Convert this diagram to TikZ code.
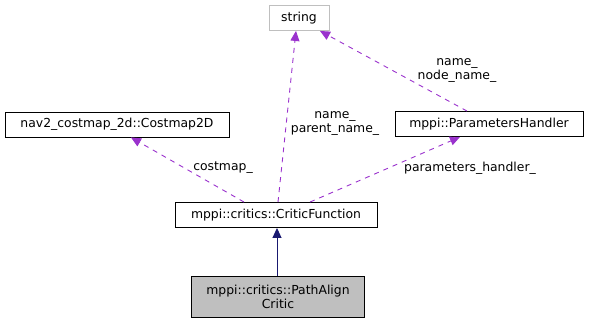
\documentclass[tikz,border=0pt]{standalone}
\usepackage{fontspec}
\setmainfont{DejaVu Sans}
\usepackage{tikz}
\usetikzlibrary{arrows.meta,positioning}
\definecolor{usagepurple}{HTML}{9A32CD}
\definecolor{inheritnavy}{HTML}{191970}
\definecolor{leafgray}{HTML}{BFBFBF}

\tikzset{
  classbox/.style={draw, fill=white, line width=0.9pt, inner sep=2pt,
                   minimum height=25, font=\fontsize{12.4}{14}\selectfont, align=center},
  edgelabel/.style={font=\fontsize{12.4}{14}\selectfont, align=center, inner sep=1pt},
  usage/.style={draw=usagepurple, line width=0.9pt, dash pattern=on 5pt off 5pt,
                -{Triangle[length=10pt,width=9pt,fill=usagepurple]}},
  inherit/.style={draw=inheritnavy, line width=0.9pt,
                  -{Triangle[length=10pt,width=9pt,fill=inheritnavy]}}
}

\begin{document}
\begin{tikzpicture}[x=1pt, y=-1pt]
\useasboundingbox (0,0) rectangle (589,324);

% classes
\node[classbox, draw=leafgray, minimum width=60] (str) at (299,18) {string};
\node[classbox, minimum width=224] (costmap) at (117,124.5) {nav2\_costmap\_2d::Costmap2D};
\node[classbox, minimum width=188] (params) at (489,124) {mppi::ParametersHandler};
\node[classbox, minimum width=202] (critfn) at (276,215) {mppi::critics::CriticFunction};
\node[classbox, fill=leafgray, minimum width=173, minimum height=41] (pathalign) at (278,297)
  {mppi::critics::PathAlign\\Critic};

% inheritance
\draw[inherit] ([xshift=-1]pathalign.north) -- ([xshift=-1]pathalign.north |- critfn.south);

% members
\draw[usage] ([xshift=2]critfn.north) -- ([xshift=-3]str.south);
\node[edgelabel] (lblname) at (335,123) {name\_\\parent\_name\_};
\draw[usage] ([xshift=-22]params.north) -- ([xshift=21]str.south);
\node[edgelabel] (lblnode) at (457,70) {name\_\\node\_name\_};
\draw[usage] ([xshift=34]critfn.north) -- ([xshift=-29]params.south);
\node[edgelabel] (lblparams) at (470,168) {parameters\_handler\_};
\draw[usage] ([xshift=-32]critfn.north) -- ([xshift=14]costmap.south);
\node[edgelabel] (lblcostmap) at (223,168) {costmap\_};
\end{tikzpicture}
\end{document}
